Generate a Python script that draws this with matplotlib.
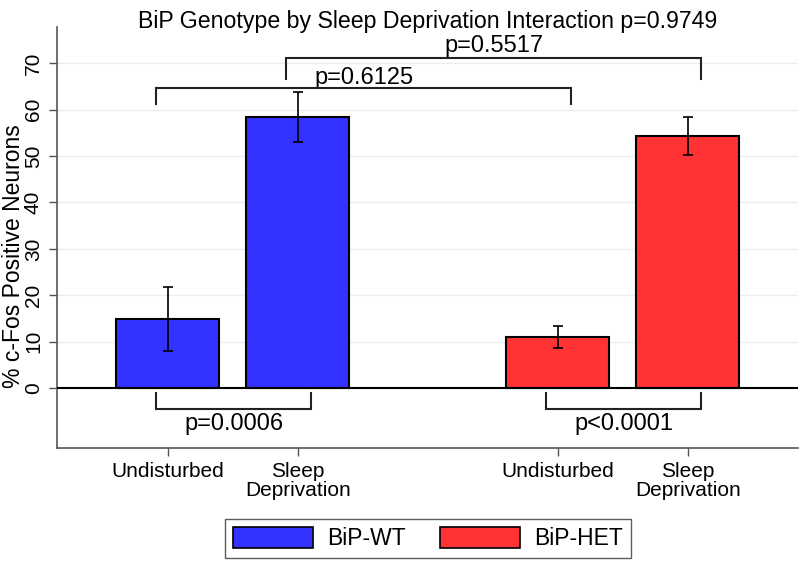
import numpy as np
import matplotlib
matplotlib.use("Agg")
import matplotlib.pyplot as plt
from matplotlib.patches import Patch

plt.rcParams["font.family"] = ["Liberation Sans", "DejaVu Sans"]

# Data
conditions = ["Undisturbed", "Sleep\nDeprivation", "Undisturbed", "Sleep\nDeprivation"]
genotypes = ["BiP-WT", "BiP-WT", "BiP-HET", "BiP-HET"]
means = [14.9, 58.4, 11.0, 54.3]
errors = [6.9, 5.4, 2.4, 4.0]
legend_labels = ["BiP-WT", "BiP-HET"]
title_text = "BiP Genotype by Sleep Deprivation Interaction p=0.9749"

# comparisons: (bar a, bar b, label)
top_pairs = [(1, 3, "p=0.5517"), (0, 2, "p=0.6125")]
bottom_pairs = [(0, 1, "p=0.0006"), (2, 3, "p<0.0001")]

colors = {"BiP-WT": "#3333ff", "BiP-HET": "#ff3333"}
positions = np.array([1, 2, 4, 5])

fig = plt.figure(figsize=(8, 5.61), dpi=100)
ax = fig.add_axes([0.071, 0.2014, 0.926, 0.7506])

# light grid
for yv in range(10, 80, 10):
    ax.axhline(yv, color="#e6eff1", lw=1.0, zorder=0)

bar_colors = [colors[g] for g in genotypes]
ax.bar(positions, means, width=0.79, color=bar_colors, edgecolor="black",
       linewidth=1.5, zorder=2)
ax.errorbar(positions, means, yerr=errors, fmt="none", ecolor="black",
            elinewidth=1.2, capsize=3.6, capthick=1.2, zorder=3)
ax.axhline(0, color="black", lw=1.5, zorder=3)

br_col = "#222222"
lo, hi = -0.09, 0.105


def bracket(a, b, y_bar, y_leg, label, y_text):
    xa = positions[a] + lo
    xb = positions[b] + hi
    ax.plot([xa, xa, xb, xb], [y_leg, y_bar, y_bar, y_leg], color=br_col,
            lw=1.5, zorder=4, solid_joinstyle="miter")
    ax.text((xa + xb) / 2, y_text, label, ha="center", va="center", fontsize=17)


bracket(*top_pairs[0][:2], 71.1, 66.6, top_pairs[0][2], 73.6)
bracket(*top_pairs[1][:2], 64.6, 61.2, top_pairs[1][2], 66.8)
for a, b, lab in bottom_pairs:
    bracket(a, b, -4.5, -1.0, lab, -7.8)

ax.set_xlim(0.146, 5.846)
ax.set_ylim(-12.9, 77.8)
ax.set_yticks(range(0, 80, 10))
ax.set_yticklabels([str(v) for v in range(0, 80, 10)], rotation=90,
                   va="center", fontsize=15)
ax.set_xticks(positions)
ax.set_xticklabels(conditions, fontsize=15, linespacing=1.0)
ax.tick_params(axis="both", length=6, width=1.0, color="#555555")
ax.tick_params(axis="y", pad=4)
ax.tick_params(axis="x", pad=4)
ax.set_ylabel("% c-Fos Positive Neurons", fontsize=16.5, va="center")
ax.yaxis.set_label_coords(-0.058, 0.456)

for side in ["top", "right"]:
    ax.spines[side].set_visible(False)
for side in ["left", "bottom"]:
    ax.spines[side].set_color("#555555")
    ax.spines[side].set_linewidth(1.2)

fig.text(0.534, 0.962, title_text, ha="center", va="center", fontsize=16.7)

handles = [Patch(facecolor=colors[g], edgecolor="black", linewidth=1.2)
           for g in legend_labels]
leg = fig.legend(handles, legend_labels, loc="center", bbox_to_anchor=(0.535, 0.04),
                 ncol=2, fontsize=16.5, frameon=True, fancybox=False,
                 handlelength=3.5, handleheight=1.0, columnspacing=1.5,
                 handletextpad=0.6, borderpad=0.35)
leg.get_frame().set_edgecolor("#333333")
leg.get_frame().set_linewidth(1.0)

fig.savefig("out.png", dpi=100)
